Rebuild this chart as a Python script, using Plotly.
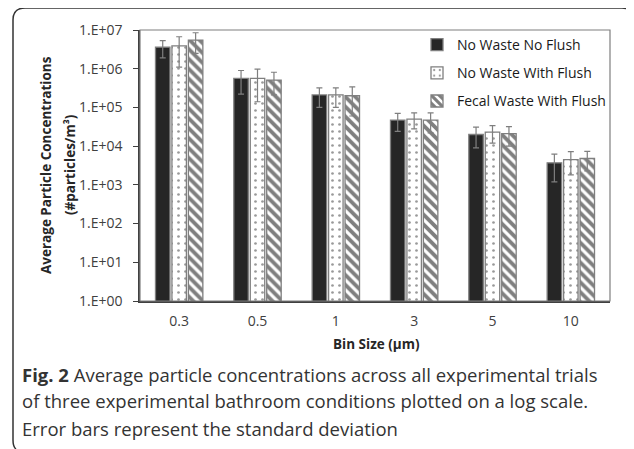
import plotly.graph_objects as go

categories = ["0.3", "0.5", "1", "3", "5", "10"]
series_names = ["No Waste No Flush", "No Waste With Flush", "Fecal Waste With Flush"]
no_waste_no_flush = [3.6e6, 5.6e5, 2.1e5, 4.7e4, 2.0e4, 3.7e3]
no_waste_no_flush_sd = [1.7e6, 3.4e5, 1.1e5, 2.3e4, 1.1e4, 2.5e3]
no_waste_with_flush = [3.9e6, 5.6e5, 2.1e5, 5.0e4, 2.3e4, 4.5e3]
no_waste_with_flush_sd = [2.8e6, 4.2e5, 1.1e5, 2.2e4, 1.1e4, 2.7e3]
fecal_waste_with_flush = [5.5e6, 5.1e5, 2.0e5, 4.7e4, 2.1e4, 4.8e3]
fecal_waste_with_flush_sd = [3.0e6, 3.0e5, 1.4e5, 2.5e4, 1.1e4, 2.5e3]
y_tickvals = [1e0, 1e1, 1e2, 1e3, 1e4, 1e5, 1e6, 1e7]
y_ticktext = ["1.E+00", "1.E+01", "1.E+02", "1.E+03", "1.E+04", "1.E+05", "1.E+06", "1.E+07"]

# page has an 8px body margin; lay out in screen pixels and shift
OFF = 8
W, H = 634 - OFF, 449 - OFF
PLOT_X0, PLOT_X1, PLOT_Y0, PLOT_Y1 = 140, 610, 30, 301  # screen px
L, R = PLOT_X0 - OFF, W - (PLOT_X1 - OFF)
T, B = PLOT_Y0 - OFF, H - (PLOT_Y1 - OFF)
PW, PH = W - L - R, H - T - B

def px(x):
    return (x - OFF - L) / PW

def py(y):
    return (H - B - (y - OFF)) / PH

FONT = "Open Sans"
EDGE = "#7f7f7f"

fig = go.Figure()
styles = [
    dict(color="#262626", pattern=dict(shape="")),
    dict(color="white", pattern=dict(shape=".", fgcolor="#333333", bgcolor="white", size=7, solidity=0.12)),
    dict(color="white", pattern=dict(shape="\\", fgcolor="#000000", bgcolor="white", size=7, solidity=0.55)),
]
data = [(no_waste_no_flush, no_waste_no_flush_sd),
        (no_waste_with_flush, no_waste_with_flush_sd),
        (fecal_waste_with_flush, fecal_waste_with_flush_sd)]
for i, (name, (vals, sd), st) in enumerate(zip(series_names, data, styles)):
    fig.add_trace(go.Bar(
        x=categories, y=vals, name=name, legendgroup=f"g{i}",
        marker=dict(color=st["color"], pattern=st["pattern"], line=dict(color=EDGE, width=1.3)),
        error_y=dict(type="data", array=sd, visible=True, color="#7f7f7f", thickness=1.2, width=3),
    ))

# outer frame (top and left edges with rounded corners), screen px
pts = [(16, 449), (13, 447), (13, 440), (13, 20), (13, 8), (25, 8), (622, 8), (632, 8), (633, 17)]
p = [(px(a), py(b)) for a, b in pts]
path = (f"M {p[0][0]},{p[0][1]} Q {p[1][0]},{p[1][1]} {p[2][0]},{p[2][1]} "
        f"L {p[3][0]},{p[3][1]} Q {p[4][0]},{p[4][1]} {p[5][0]},{p[5][1]} "
        f"L {p[6][0]},{p[6][1]} Q {p[7][0]},{p[7][1]} {p[8][0]},{p[8][1]}")
fig.add_shape(type="path", path=path, xref="paper", yref="paper",
              line=dict(color="#333333", width=1.5))
# plot frame
fig.add_shape(type="rect", xref="paper", yref="paper", x0=0, y0=0, x1=1, y1=1,
              line=dict(color="#7f7f7f", width=1.2), layer="above")

fig.update_layout(
    width=W, height=H,
    margin=dict(l=L, r=R, t=T, b=B),
    paper_bgcolor="white", plot_bgcolor="white",
    barmode="group", bargap=0.37, bargroupgap=0.12,
    font=dict(family=FONT, color="#404040", size=13),
    showlegend=True,
    legend=dict(x=px(417), y=py(29), xanchor="left", yanchor="top",
                font=dict(size=14, color="#1a1a1a", family=FONT),
                traceorder="grouped", tracegroupgap=7,
                bgcolor="rgba(0,0,0,0)", itemwidth=30),
    xaxis=dict(showline=True, linecolor="#404040", linewidth=2, ticks="",
               ticklabelstandoff=6,
               tickfont=dict(size=14, color="#404040")),
    yaxis=dict(type="log", range=[0, 7], tickvals=y_tickvals, ticktext=y_ticktext,
               showline=True, linecolor="#404040", linewidth=1.5, ticks="outside", ticklen=5,
               tickcolor="#404040", showgrid=False, zeroline=False, ticklabelstandoff=8,
               tickfont=dict(size=14, color="#404040")),
)

# y-axis title (two lines)
fig.add_annotation(text="<b>Average Particle Concentrations</b>", xref="paper", yref="paper",
                   x=px(46), y=py(165), textangle=-90, showarrow=False,
                   xanchor="center", yanchor="middle", font=dict(size=13.5, color="#262626"))
fig.add_annotation(text="<b>(#particles/m³)</b>", xref="paper", yref="paper",
                   x=px(70), y=py(165), textangle=-90, showarrow=False,
                   xanchor="center", yanchor="middle", font=dict(size=13.5, color="#262626"))
# x-axis title
fig.add_annotation(text="<b>Bin Size (µm)</b>", xref="paper", yref="paper",
                   x=px(376), y=py(344), showarrow=False,
                   xanchor="center", yanchor="middle", font=dict(size=13.5, color="#262626"))

caption = ["<b>Fig. 2</b> Average particle concentrations across all experimental trials",
           "of three experimental bathroom conditions plotted on a log scale.",
           "Error bars represent the standard deviation"]
for k, line in enumerate(caption):
    fig.add_annotation(text=line, xref="paper", yref="paper", x=px(20), y=py(374 + 27 * k),
                       xanchor="left", yanchor="middle", showarrow=False,
                       font=dict(size=18.5, color="#333333", family=FONT))

fig.write_html("out.html")
